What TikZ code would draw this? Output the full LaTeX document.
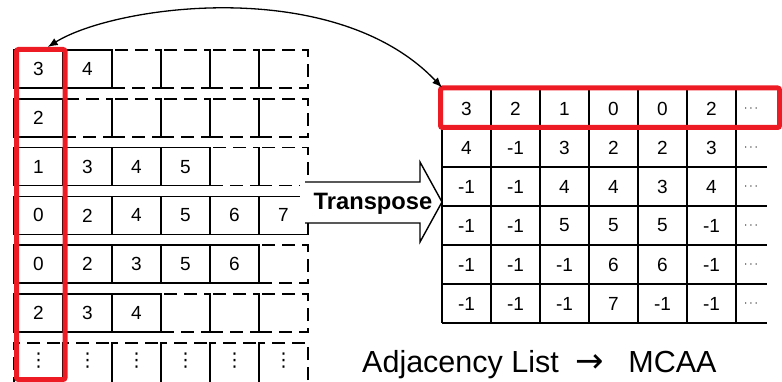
\documentclass[tikz,border=0pt]{standalone}
\usepackage{fontspec}
\setmainfont{Liberation Sans}
\newfontfamily\glyphfont{DejaVu Sans}
\usepackage{tikz}
\usetikzlibrary{arrows.meta}
\definecolor{hl}{RGB}{237,28,36}
\tikzset{
  cell/.style={draw,line width=1.6pt,minimum width=49pt,minimum height=38pt,inner sep=0pt},
  gap/.style={cell,dash pattern=on 13pt off 7pt},
  num/.style={font=\fontsize{19}{19}\selectfont,inner sep=0pt},
  grid/.style={line width=1.6pt},
  sel/.style={draw=hl,line width=5pt,rounded corners=2pt,inner sep=0pt},
  link/.style={{Latex[length=10pt,width=8pt]}-{Latex[length=10pt,width=8pt]},line width=1.3pt}
}

\begin{document}
\begin{tikzpicture}[x=1pt,y=-1pt]
  \useasboundingbox (0,0) rectangle (782,382);
  % adjacency list: empty slots first, filled slots on top
  \foreach \r in {1,...,6} \foreach \c in {1,...,6} \node[gap] (g-\r-\c) at ({38.5+49*(\c-1)},{69+48.8*(\r-1)}) {};
  \foreach \c in {1,...,6} {
    \node[gap,minimum height=48pt] (g-7-\c) at ({38.5+49*(\c-1)},367) {};
    \node[num,font=\glyphfont\fontsize{19}{19}\selectfont] (d-\c) at ({38.5+49*(\c-1)},361) {⋮};
  }
  \foreach \r/\list in {1/{3,4},2/{2},3/{1,3,4,5},4/{0,2,4,5,6,7},5/{0,2,3,5,6},6/{2,3,4}}
    \foreach \v [count=\c] in \list \node[cell,num] (l-\r-\c) at ({38.5+49*(\c-1)},{69+48.8*(\r-1)}) {\v};
  \fill[white] (300,182) -- (420,182) -- (420,162) -- (442,202) -- (420,242) -- (420,223) -- (300,223) -- cycle;
  \draw[line width=1.4pt] (305,182) -- (420,182) -- (420,162) -- (442,202) -- (420,242) -- (420,223) -- (305,223);
  \node[font=\bfseries\fontsize{23.7}{24}\selectfont,anchor=base,inner sep=0pt] (tp) at (373,210) {Transpose};
  % MCAA table
  \foreach \i in {0,...,6} \draw[grid] (442,{89+39*\i}) -- (767,{89+39*\i});
  \foreach \j in {0,...,6} \draw[grid] ({442+49*\j},89) -- ({442+49*\j},323);
  \foreach \r/\list in {1/{3,2,1,0,0,2},2/{4,-1,3,2,2,3},3/{-1,-1,4,4,3,4},4/{-1,-1,5,5,5,-1},5/{-1,-1,-1,6,6,-1},6/{-1,-1,-1,7,-1,-1}} {
    \foreach \v [count=\c] in \list \node[num] (m-\r-\c) at ({466.5+49*(\c-1)},{108.5+39*(\r-1)}) {\v};
    \node[num,font=\fontsize{12}{12}\selectfont] (m-\r-7) at (751,{108.5+39*(\r-1)}) {$\cdots$};
  }
  \node[sel,minimum width=48.5pt,minimum height=330pt] (lsel) at (40.75,214.5) {};
  \node[sel,minimum width=339pt,minimum height=39.5pt] (rsel) at (610,107.75) {};
  \draw[link] ([xshift=7pt]lsel.north) .. controls (115,5) and (335,-25) .. ([xshift=4pt,yshift=-2pt]rsel.north west);
  \node[font=\fontsize{30.5}{31}\selectfont,anchor=base west,inner sep=0pt] (cap) at (362,372) {Adjacency List\hspace{17pt}{\glyphfont\fontsize{34}{34}\selectfont →}\hspace{24pt}MCAA};
\end{tikzpicture}
\end{document}
